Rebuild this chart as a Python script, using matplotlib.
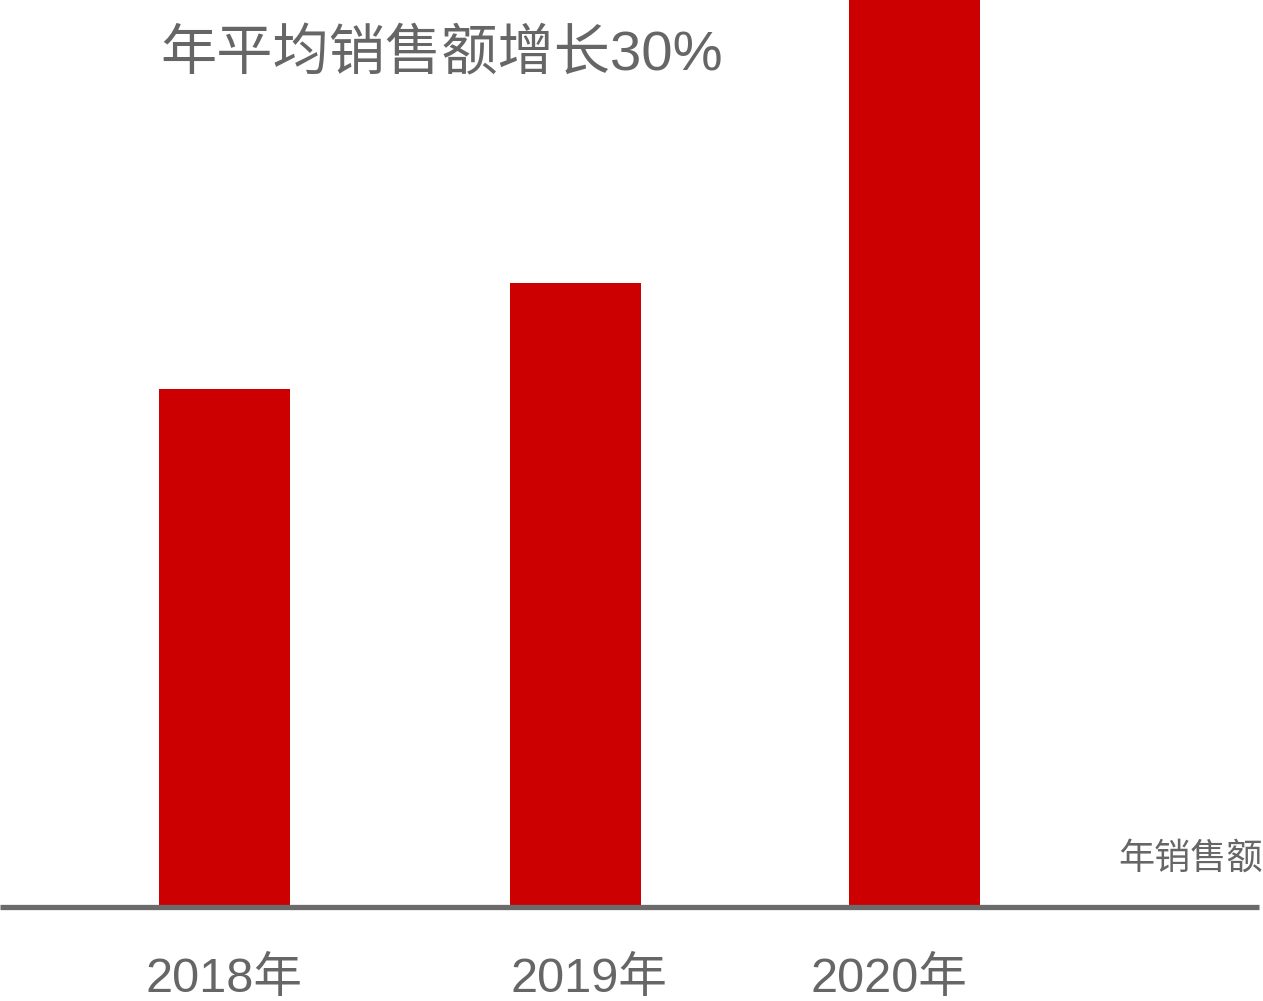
import matplotlib.pyplot as plt

# Data
years = ['2018年', '2019年', '2020年']
sales = [517, 623, 905]

# Layout (pixel-like units on a 1263 x 1001 canvas)
bar_x = [224.5, 575.5, 914.5]
label_x = [224, 589, 889]

fonts = ['Liberation Sans', 'Noto Sans CJK SC', 'DejaVu Sans']
plt.rcParams['font.family'] = fonts

fig = plt.figure(figsize=(12.63, 10.01), dpi=100)
base = (1001 - 907) / 1001
ax = fig.add_axes([0, base, 1, 1 - base])
ax.bar(bar_x, sales, width=131, color='#cc0000', zorder=2)
ax.set_xlim(0, 1263)
ax.set_ylim(0, 905)

for s in ['top', 'right', 'left']:
    ax.spines[s].set_visible(False)
ax.spines['bottom'].set_color('#6b6b6b')
ax.spines['bottom'].set_linewidth(3.8)
ax.spines['bottom'].set_bounds(0, 1259)
ax.spines['bottom'].set_capstyle('butt')
ax.spines['bottom'].set_zorder(3)
ax.set_yticks([])
ax.set_xticks(label_x, years)
ax.tick_params(axis='x', length=0, pad=36, labelsize=35, labelcolor='#666666')

fig.text(160 / 1263, 1 - 56 / 1001, '年平均销售额增长30%', fontsize=40.5,
         color='#666666', ha='left', va='center')
fig.text(1, 1 - 859 / 1001, '年销售额', fontsize=26, color='#666666',
         ha='right', va='center')

fig.savefig('out.png', dpi=100)
